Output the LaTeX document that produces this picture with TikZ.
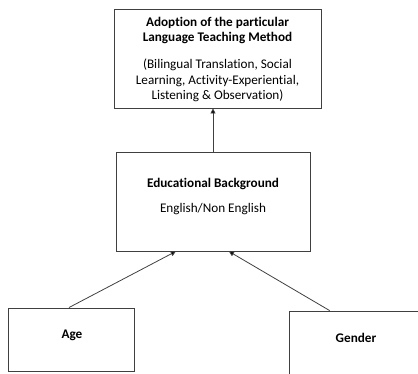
\documentclass[tikz,border=0pt]{standalone}
\usepackage{fontspec}
\setmainfont{Carlito}[Ligatures={NoCommon}]
\usetikzlibrary{calc,arrows.meta}
\definecolor{edge}{HTML}{404040}
\tikzset{
  box/.style={draw=edge, line width=0.9pt, rectangle, inner sep=0pt},
  txt/.style={align=center, inner sep=0pt, font=\fontsize{13.2}{15}\selectfont},
  btxt/.style={txt, font=\fontsize{13.2}{15}\selectfont\bfseries},
  conn/.style={draw=edge, line width=0.8pt, -{Triangle[length=5pt,width=5pt,fill=black]}}
}
\begin{document}
\begin{tikzpicture}[x=1pt,y=-1pt]
\useasboundingbox (0,0) rectangle (418,373);
\node[box, minimum width=207pt, minimum height=99pt] (top) at (217.5,58.5) {};
\node[box, minimum width=194pt, minimum height=99pt] (edu) at (213,201.5) {};
\node[box, minimum width=126pt, minimum height=63pt] (age) at (71,339.5) {};
\node[box, minimum width=136pt, minimum height=70pt] (gender) at (357,346) {};
\node[btxt] (t1) at (217.5,30.5) {Adoption of the particular\\Language Teaching Method};
\node[txt, font=\fontsize{13.2}{15.5}\selectfont] (t2) at (217.5,80.5) {(Bilingual Translation, Social\\Learning, Activity-Experiential,\\Listening \& Observation)};
\node[btxt] (e1) at (213,184) {Educational Background};
\node[txt] (e2) at (213,209) {English/Non English};
\node[btxt] (a1) at (72,335) {Age};
\node[btxt] (g1) at (356,338) {Gender};
\draw[conn] (edu.north) -- (edu.north |- top.south);
\draw[conn] ($(age.north west)!0.484!(age.north east)$) -- ($(edu.south west)!0.309!(edu.south east)$);
\draw[conn] ($(gender.north west)!0.30!(gender.north east)$) -- ($(edu.south west)!0.582!(edu.south east)$);
\end{tikzpicture}
\end{document}
